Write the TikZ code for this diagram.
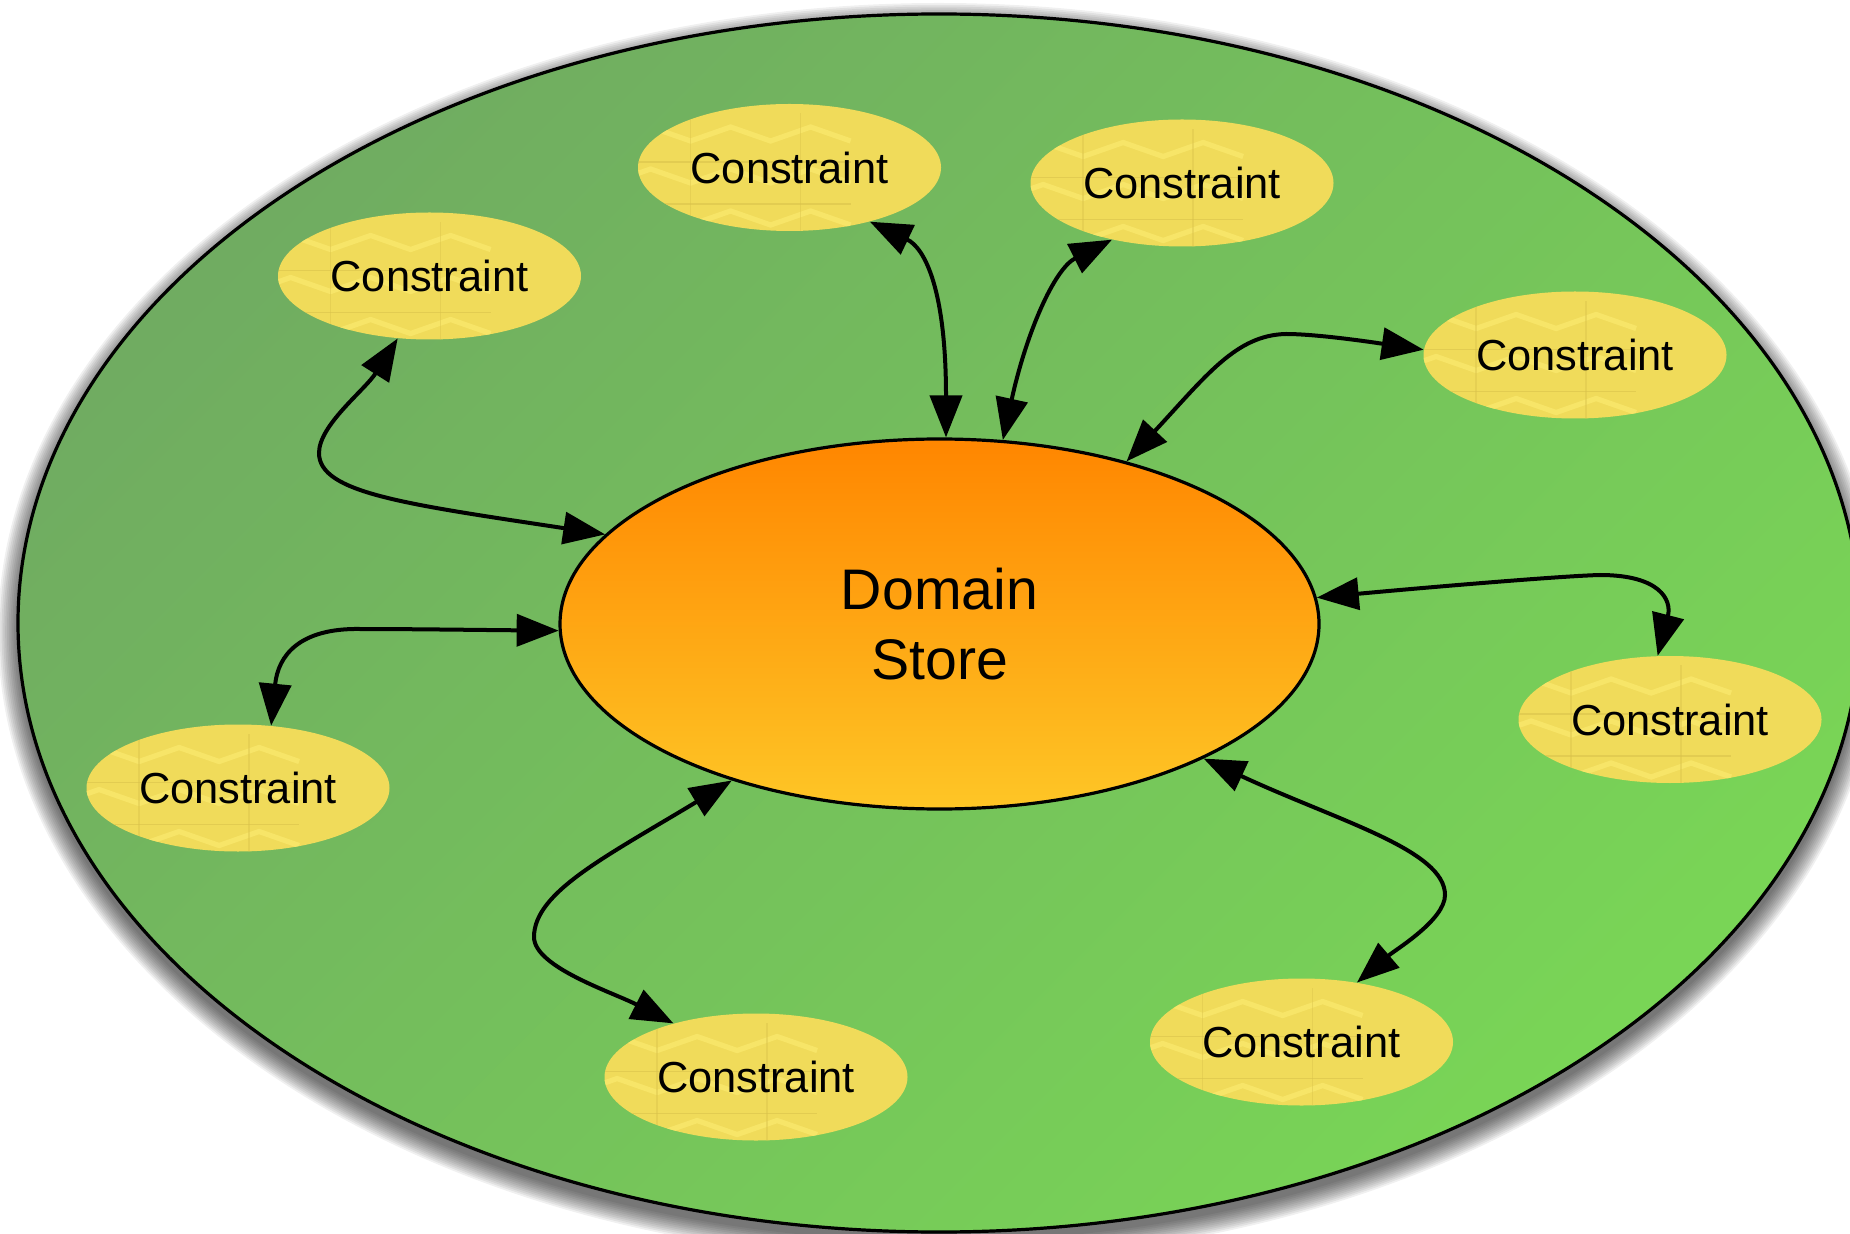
\documentclass[tikz,border=0pt]{standalone}
\usepackage{fontspec}
\setmainfont{Liberation Sans}
\usetikzlibrary{shapes.geometric, arrows.meta}

\definecolor{fieldtop}{RGB}{112,172,97}
\definecolor{fieldbot}{RGB}{121,213,86}
\definecolor{storetop}{RGB}{255,134,0}
\definecolor{storebot}{RGB}{254,198,38}
\definecolor{consfill}{RGB}{240,219,90}
\definecolor{conslight}{RGB}{249,232,108}
\definecolor{consdark}{RGB}{218,195,76}

\tikzset{
  link/.style={line width=2pt,
    {Triangle[length=21pt,width=16pt]}-{Triangle[length=21pt,width=16pt]}},
  store/.style={ellipse, draw, line width=1.6pt,
    minimum width=379.5pt, minimum height=185pt, inner sep=0pt,
    top color=storetop, bottom color=storebot,
    align=center, font=\fontsize{28.6}{35}\selectfont},
  cons/.style={ellipse, minimum width=151.5pt, minimum height=63.5pt,
    inner sep=0pt, fill=consfill, font=\fontsize{21.7}{26}\selectfont,
    path picture={
      \begin{scope}[shift={(path picture bounding box.center)}, x=1pt, y=1pt]
        \foreach \r in {-21,0,21}{
          \draw[consdark, line width=0.8pt, opacity=0.6] (-80,\r-10.5) -- (80,\r-10.5);
          \draw[conslight, line width=2.6pt, opacity=0.8]
            (-80,\r) -- (-60,\r+7) -- (-40,\r) -- (-20,\r+7) -- (0,\r)
            -- (20,\r+7) -- (40,\r) -- (60,\r+7) -- (80,\r);
        }
        \foreach \c in {-55,0,55}
          \draw[consdark, line width=0.8pt, opacity=0.45] (\c,-35) -- (\c,35);
      \end{scope}
    }}
}

\begin{document}
\begin{tikzpicture}[x=0.5pt, y=-0.5pt]
  % canvas
  \fill[white] (0,0) rectangle (1850,1234);
  \useasboundingbox (0,0) rectangle (1850,1234);

  % soft shadow under the outer field
  \foreach \i in {0,...,11}{
    \pgfmathsetmacro\sx{460.5+10-0.9*\i}
    \pgfmathsetmacro\sy{304.5+10-0.9*\i}
    \fill[black, opacity=0.06] (939,632) ellipse [x radius=\sx*1pt, y radius=\sy*1pt];
  }

  % outer field
  \path[draw, line width=1.6pt, top color=fieldtop, bottom color=fieldbot, shading angle=45]
    (939,623) ellipse [x radius=460.5pt, y radius=304.5pt];

  % central store
  \node[store] (ds) at (939.5,624) {Domain\\Store};

  % constraints
  \node[cons] (c1) at (789.5,167.5) {Constraint};
  \node[cons] (c2) at (1182,183)    {Constraint};
  \node[cons] (c3) at (429.5,276)   {Constraint};
  \node[cons] (c4) at (1575,355)    {Constraint};
  \node[cons] (c5) at (1670,719.5)  {Constraint};
  \node[cons] (c6) at (238,788)     {Constraint};
  \node[cons] (c7) at (756,1077)    {Constraint};
  \node[cons] (c8) at (1301.5,1042) {Constraint};

  % two-way links between the store and each constraint
  \draw[link] (ds.165.9) .. controls (405,504) and (319,493) .. (319,453)
              .. controls (319,425) and (365,390) .. (c3.243.8);
  \draw[link] (ds.181) .. controls (480,630) and (410,629) .. (360,629)
              .. controls (300,628) and (278,655) .. (c6.62.4);
  \draw[link] (ds.88.6) .. controls (946,290) and (925,248) .. (c1.-34);
  \draw[link] (ds.71.5) .. controls (1026,334) and (1054,269) .. (c2.219.9);
  \draw[link] (ds.41.5) .. controls (1206,376) and (1236,335) .. (1286,334)
              .. controls (1320,334) and (1384,344) .. (c4.178);
  \draw[link] (ds.4) .. controls (1420,588) and (1560,576) .. (1600,575)
              .. controls (1660,575) and (1672,600) .. (c5.101.4);
  \draw[link] (ds.-27) .. controls (1338,821) and (1445,850) .. (1445,895)
              .. controls (1445,920) and (1395,950) .. (c8.47.8);
  \draw[link] (ds.217.6) .. controls (607,856) and (534,892) .. (534,937)
              .. controls (534,967) and (612,992) .. (c7.147.1);
\end{tikzpicture}
\end{document}
